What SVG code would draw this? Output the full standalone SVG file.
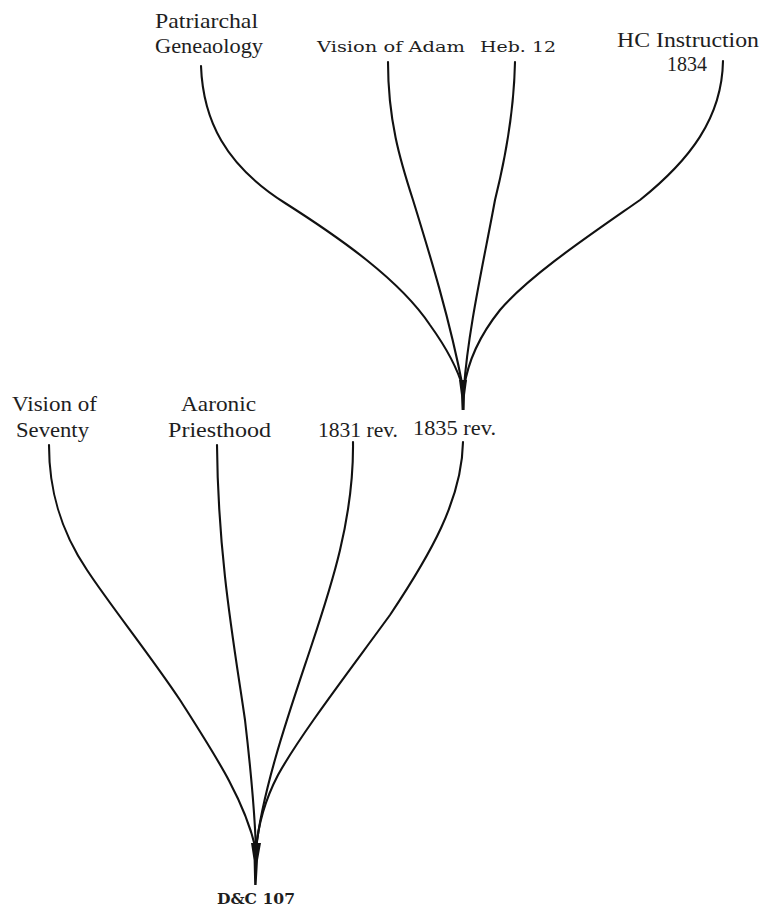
<svg xmlns="http://www.w3.org/2000/svg" width="764" height="908" viewBox="0 0 764 908">
  <style>
    .lbl { font-family: "Liberation Serif", "Times New Roman", serif; font-size: 21px; fill: #1e1e1e; }
    .wide { font-family: "DejaVu Serif", "Liberation Serif", serif; font-size: 15px; fill: #1e1e1e; }
    .root { font-family: "DejaVu Serif", "Liberation Serif", serif; font-size: 14px; font-weight: bold; fill: #1e1e1e; }
    .branch { fill: none; stroke: #111; stroke-width: 2.1; stroke-linecap: round; stroke-linejoin: round; }
    .stem { fill: #111; stroke: none; }
  </style>
  <rect width="764" height="908" fill="#ffffff"/>

  <!-- upper tree: sources of the 1835 revision -->
  <g id="patriarchal-geneaology">
    <text class="lbl" x="155" y="28" textLength="103" lengthAdjust="spacingAndGlyphs">Patriarchal</text>
    <text class="lbl" x="155" y="53" textLength="108" lengthAdjust="spacingAndGlyphs">Geneaology</text>
  </g>
  <g id="vision-of-adam">
    <text class="wide" x="317" y="52" textLength="148" lengthAdjust="spacingAndGlyphs">Vision of Adam</text>
  </g>
  <g id="heb-12">
    <text class="wide" x="480" y="52" textLength="76" lengthAdjust="spacingAndGlyphs">Heb. 12</text>
  </g>
  <g id="hc-instruction-1834">
    <text class="lbl" x="617" y="47" textLength="142" lengthAdjust="spacingAndGlyphs">HC Instruction</text>
    <text class="lbl" x="667" y="71" textLength="40" lengthAdjust="spacingAndGlyphs">1834</text>
  </g>

  <!-- lower tree: sources of D&C 107 -->
  <g id="vision-of-seventy">
    <text class="lbl" x="12" y="411" textLength="85" lengthAdjust="spacingAndGlyphs">Vision of</text>
    <text class="lbl" x="16" y="437" textLength="73" lengthAdjust="spacingAndGlyphs">Seventy</text>
  </g>
  <g id="aaronic-priesthood">
    <text class="lbl" x="181" y="411" textLength="75" lengthAdjust="spacingAndGlyphs">Aaronic</text>
    <text class="lbl" x="168" y="437" textLength="103" lengthAdjust="spacingAndGlyphs">Priesthood</text>
  </g>
  <g id="rev-1831">
    <text class="lbl" x="318" y="437" textLength="80" lengthAdjust="spacingAndGlyphs">1831 rev.</text>
  </g>
  <g id="rev-1835">
    <text class="lbl" x="413" y="435" textLength="83" lengthAdjust="spacingAndGlyphs">1835 rev.</text>
  </g>
  <g id="dc-107">
    <text class="root" x="256" y="904" text-anchor="middle" textLength="78" lengthAdjust="spacingAndGlyphs">D&amp;C 107</text>
  </g>

  <g id="connectors">
    <!-- branches into 1835 rev. -->
    <path class="branch" d="M201,66 C203,120 225,165 285,203 C340,238 400,280 430,325 C448,350 458,370 463,388"/>
    <path class="branch" d="M388,62 C388,120 400,160 413,200 C430,255 450,320 463,388"/>
    <path class="branch" d="M515,62 C514,110 505,160 495,200 C484,260 468,330 464,388"/>
    <path class="branch" d="M723,61 C722,118 690,160 640,200 C590,235 530,275 500,310 C480,335 468,360 464,388"/>
    <path class="stem" d="M459,380 L467,380 L465,395 L464.6,410 L461.6,410 L461,395 Z"/>

    <!-- branches into D&C 107 -->
    <path class="branch" d="M49,445 C49,490 60,530 87,570 C110,605 150,655 180,700 C215,755 245,800 256,850"/>
    <path class="branch" d="M217,445 C218,560 235,650 245,720 C252,780 255,820 256,850"/>
    <path class="branch" d="M353,442 C354,520 330,590 310,650 C290,710 262,790 256,850"/>
    <path class="branch" d="M463,442 C462,500 430,555 390,615 C350,670 300,735 278,775 C265,800 258,825 256,850"/>
    <path class="stem" d="M251,843 L261,843 L258,860 L256.6,885 L254.2,885 L253.6,860 Z"/>
  </g>
</svg>
